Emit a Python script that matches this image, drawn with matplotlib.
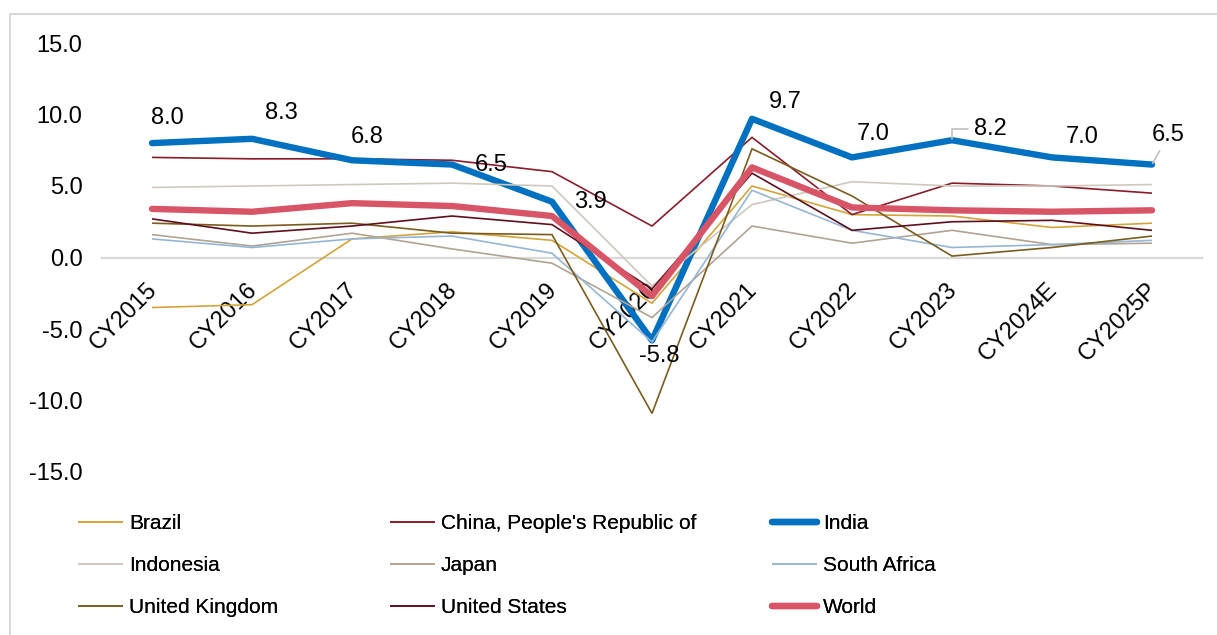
import matplotlib
matplotlib.use("Agg")
import matplotlib.pyplot as plt
import matplotlib.transforms as mtransforms
from matplotlib.patches import Rectangle

plt.rcParams["font.family"] = ["Liberation Sans", "DejaVu Sans"]

# categories
years = ["CY2015", "CY2016", "CY2017", "CY2018", "CY2019", "CY2020",
         "CY2021", "CY2022", "CY2023", "CY2024E", "CY2025P"]

brazil = [-3.5, -3.3, 1.3, 1.8, 1.2, -3.2, 5.0, 3.0, 2.9, 2.1, 2.4]
china = [7.0, 6.9, 6.9, 6.8, 6.0, 2.2, 8.4, 3.0, 5.2, 5.0, 4.5]
india = [8.0, 8.3, 6.8, 6.5, 3.9, -5.8, 9.7, 7.0, 8.2, 7.0, 6.5]
indonesia = [4.9, 5.0, 5.1, 5.2, 5.0, -2.0, 3.7, 5.3, 5.0, 5.0, 5.1]
japan = [1.6, 0.8, 1.7, 0.6, -0.4, -4.2, 2.2, 1.0, 1.9, 0.9, 1.0]
south_africa = [1.3, 0.7, 1.3, 1.5, 0.3, -5.9, 4.7, 1.9, 0.7, 0.9, 1.2]
uk = [2.4, 2.2, 2.4, 1.7, 1.6, -10.9, 7.6, 4.3, 0.1, 0.7, 1.5]
us = [2.7, 1.7, 2.2, 2.9, 2.3, -2.2, 5.9, 1.9, 2.5, 2.6, 1.9]
world = [3.4, 3.2, 3.8, 3.6, 2.9, -2.7, 6.3, 3.5, 3.3, 3.2, 3.3]

yticks = [-15, -10, -5, 0, 5, 10, 15]

# (name, values, colour, width) in drawing order
series = [
    ("Brazil", brazil, "#D4A43A", 1.2),
    ("China, People's Republic of", china, "#8A1C2C", 1.2),
    ("India", india, "#0070C0", 4.6),
    ("Indonesia", indonesia, "#CFC8BD", 1.2),
    ("Japan", japan, "#B2A392", 1.2),
    ("South Africa", south_africa, "#95B6D6", 1.2),
    ("United Kingdom", uk, "#7B5C1F", 1.2),
    ("United States", us, "#5E0F1C", 1.2),
    ("World", world, "#D85567", 4.6),
]

# data label offsets for India (points)
label_offsets = [(11, 18), (21.5, 18.5), (11, 16.5), (28, 0), (28, 0), (5, -11),
                 (24, 12), (15, 16.5), (27.5, 8), (22, 15), (12, 21.5)]

fig = plt.figure(figsize=(12.17, 6.35), dpi=100)
ax = fig.add_axes([102 / 1217, 163 / 635, 1100 / 1217, 429 / 635])

# spines first: moving a spine resets the ticks
for s in ["top", "right", "left"]:
    ax.spines[s].set_visible(False)
ax.spines["bottom"].set_position(("data", 0))
ax.spines["bottom"].set_color("#D9D9D9")
ax.spines["bottom"].set_linewidth(1.6)
ax.spines["bottom"].set_zorder(0)

x = list(range(len(years)))
lines = {}
for name, vals, col, lw in series:
    thick = lw > 3
    (ln,) = ax.plot(x, vals, color=col, lw=lw, label=name,
                    solid_capstyle="round" if thick else "butt",
                    solid_joinstyle="round" if thick else "miter")
    lines[name] = ln

for i, v in enumerate(india):
    dx, dy = label_offsets[i]
    kw = {}
    if i == 8:
        kw["arrowprops"] = dict(arrowstyle="-", color="#BFBFBF", lw=1.2,
                                connectionstyle="angle,angleA=0,angleB=90,rad=0",
                                shrinkA=2, shrinkB=1)
    elif i == 10:
        kw["arrowprops"] = dict(arrowstyle="-", color="#BFBFBF", lw=1.2,
                                shrinkA=2, shrinkB=1)
    ax.annotate(f"{v:.1f}", (i, v), xytext=(dx, dy), textcoords="offset points",
                ha="center", va="center", fontsize=17, color="#000000", **kw)

ax.set_xlim(-0.5, len(years) - 0.5)
ax.set_ylim(-15, 15)
ax.tick_params(axis="y", length=0, pad=14, labelsize=17)
ax.tick_params(axis="x", length=0, pad=21)
ax.set_yticks(yticks)
ax.set_yticklabels([f"{t:.1f}" for t in yticks])

ax.set_xticks(x)
ax.set_xticklabels(years, rotation=45, ha="right", va="center",
                   rotation_mode="anchor", fontsize=17)
shift = mtransforms.ScaledTranslation(1.5 / 72, 0, fig.dpi_scale_trans)
for lab in ax.get_xticklabels():
    lab.set_transform(lab.get_transform() + shift)

# legend in three columns
cols = [["Brazil", "Indonesia", "United Kingdom"],
        ["China, People's Republic of", "Japan", "United States"],
        ["India", "South Africa", "World"]]
col_x = [78, 390, 772]
for names, cx in zip(cols, col_x):
    leg = fig.legend([lines[n] for n in names], names, loc="upper left",
                     bbox_to_anchor=(cx / 1217, 1 - 514 / 635),
                     frameon=False, fontsize=15, handlelength=2.15,
                     handletextpad=0.3, labelspacing=1.1, borderpad=0,
                     borderaxespad=0)
    fig.add_artist(leg)

fig.patches.append(Rectangle((10 / 1217, -0.05), 1.2, 1.05 - 14 / 635,
                             transform=fig.transFigure, fill=False,
                             ec="#D9D9D9", lw=1.5))

fig.savefig("out.png", dpi=100)
